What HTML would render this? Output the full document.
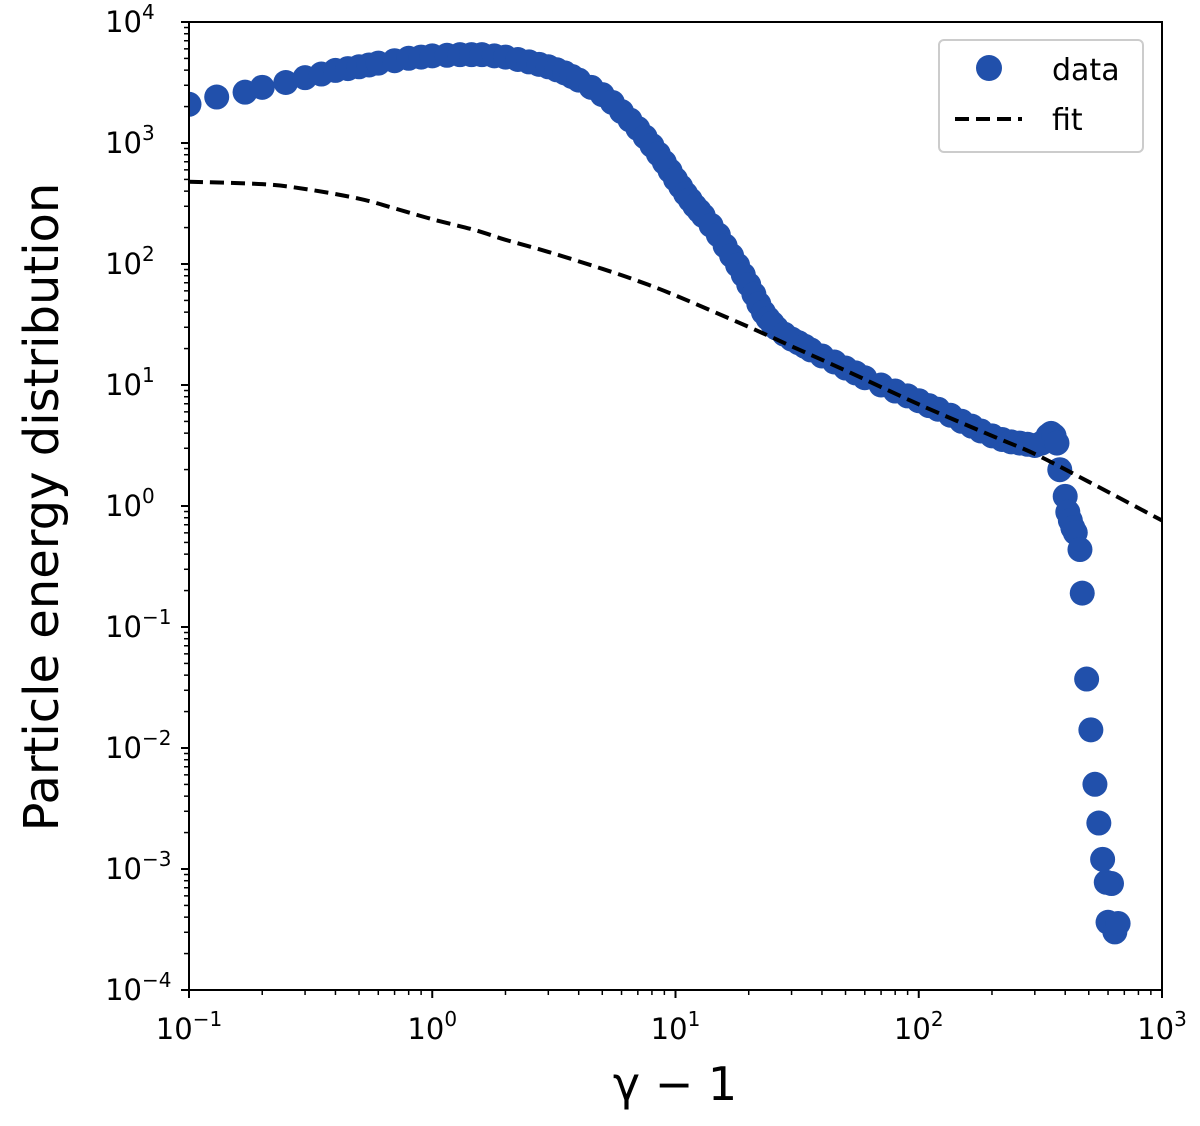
<!DOCTYPE html>
<html><head><meta charset="utf-8"><style>
html,body{margin:0;padding:0;background:#fff;}
svg text{font-family:"DejaVu Sans","Liberation Sans",sans-serif;fill:#000;}
</style></head><body>
<svg id="chart" width="1200" height="1121" xmlns="http://www.w3.org/2000/svg">
<g id="plot"></g>
</svg>
<script>
const dataX=[0.1,0.13,0.17,0.2,0.25,0.3,0.35,0.4,0.45,0.5,0.55,0.6,0.7,0.8,0.9,1.0,1.15,1.3,1.45,1.6,1.8,2.0,2.25,2.5,2.75,3,3.25,3.5,3.75,4,4.5,5,5.5,6,6.5,7,7.5,8,8.5,9,9.5,10,10.5,11,11.5,12,12.5,13,14,15,16,17,18,19,20,21,22,23,24,25,26,28,30,32,34,36,40,45,50,55,60,70,80,90,100,110,120,135,150,165,180,200,220,240,260,280,300,320,340,350,360,370,380,400,410,420,430,440,460,470,490,510,530,550,570,590,600,620,640,660];
const dataY=[3.32,3.38,3.42,3.46,3.5,3.54,3.57,3.6,3.615,3.63,3.645,3.66,3.68,3.70,3.71,3.72,3.725,3.73,3.73,3.73,3.72,3.71,3.69,3.67,3.65,3.63,3.605,3.58,3.55,3.52,3.46,3.40,3.335,3.26,3.19,3.12,3.05,2.98,2.91,2.84,2.77,2.70,2.64,2.58,2.53,2.48,2.44,2.40,2.32,2.24,2.15,2.07,1.99,1.91,1.83,1.75,1.67,1.60,1.55,1.51,1.47,1.42,1.38,1.35,1.32,1.29,1.24,1.19,1.14,1.10,1.06,1.0,0.95,0.91,0.87,0.83,0.80,0.75,0.70,0.66,0.62,0.58,0.55,0.53,0.52,0.51,0.50,0.52,0.58,0.60,0.58,0.52,0.30,0.08,-0.05,-0.12,-0.18,-0.22,-0.36,-0.72,-1.43,-1.85,-2.3,-2.62,-2.92,-3.11,-3.44,-3.12,-3.52,-3.45];
const fitX=[0.1,0.2,0.3,0.5,0.7,1,1.5,2,3,5,7,10,20,30,50,100,200,300,500,1000];
const fitY=[2.68,2.66,2.62,2.54,2.46,2.37,2.28,2.20,2.10,1.96,1.86,1.74,1.48,1.32,1.12,0.84,0.58,0.43,0.20,-0.12];
const xTickExp=[-1,0,1,2,3];
const yTickExp=[-4,-3,-2,-1,0,1,2,3,4];

const L=189,R=1162,T=22,B=990,col="#2150ab";
const NS="http://www.w3.org/2000/svg";
const sx=v=>L+(Math.log10(v)+1)/4*(R-L);
const sy=lg=>T+(4-lg)/8*(B-T);
const g=document.getElementById('plot');
function mk(tag,attrs,parent){const e=document.createElementNS(NS,tag);for(const k in attrs)e.setAttribute(k,attrs[k]);(parent||g).appendChild(e);return e;}

// smooth fit path via Catmull-Rom in pixel space
const fp=fitX.map((x,i)=>[sx(x),sy(fitY[i])]);
let d='M'+fp[0][0].toFixed(1)+','+fp[0][1].toFixed(1);
for(let i=0;i<fp.length-1;i++){const p0=fp[Math.max(0,i-1)],p1=fp[i],p2=fp[i+1],p3=fp[Math.min(fp.length-1,i+2)];
const c1=[p1[0]+(p2[0]-p0[0])/6,p1[1]+(p2[1]-p0[1])/6],c2=[p2[0]-(p3[0]-p1[0])/6,p2[1]-(p3[1]-p1[1])/6];
d+=' C'+c1.join(',')+' '+c2.join(',')+' '+p2.join(',');}
const clip=mk('clipPath',{id:'cp'});mk('rect',{x:L,y:T,width:R-L,height:B-T},clip);
const dg=mk('g',{'clip-path':'url(#cp)'});


dataX.forEach((x,i)=>{const c=mk('circle',{cx:sx(x),cy:sy(dataY[i]),r:12.5,fill:col},dg);

});
const fl=mk('path',{d:d,fill:'none',stroke:'#000','stroke-width':4,'stroke-dasharray':'14,7','clip-path':'url(#cp)'});



const fr=mk('rect',{x:L,y:T,width:R-L,height:B-T,fill:'none',stroke:'#000','stroke-width':2});



xTickExp.forEach(e=>{const x=sx(Math.pow(10,e));
mk('line',{x1:x,x2:x,y1:B,y2:B+8,stroke:'#000','stroke-width':2});
const t=mk('text',{x:x,y:B+49,'font-size':29,'text-anchor':'middle'});


t.textContent='10';const s=mk('tspan',{dy:-13,'font-size':20},t);s.textContent=(e<0?'\u2212':'')+Math.abs(e);
if(e<3)for(let m=2;m<10;m++){const xm=sx(m*Math.pow(10,e));mk('line',{x1:xm,x2:xm,y1:B,y2:B+5,stroke:'#000','stroke-width':1.5});}
});
yTickExp.forEach((e,i)=>{const y=sy(e);
mk('line',{x1:L-8,x2:L,y1:y,y2:y,stroke:'#000','stroke-width':2});
const t=mk('text',{x:L-47,y:y+10,'font-size':29,'text-anchor':'end'});


t.textContent='10';const s=mk('tspan',{dy:-13,'font-size':20,'x':L-47},t);
s.setAttribute('text-anchor','start');
s.textContent=(e<0?'\u2212':'')+Math.abs(e);
if(e<4)for(let m=2;m<10;m++){const ym=sy(e+Math.log10(m));mk('line',{x1:L-5,x2:L,y1:ym,y2:ym,stroke:'#000','stroke-width':1.5});}
});

const xt=mk('text',{x:675,y:1100,'font-size':46,'text-anchor':'middle'});


xt.textContent='\u03B3 \u2212 1';
const yt=mk('text',{x:0,y:0,'font-size':48,'text-anchor':'middle',transform:'translate(58,507) rotate(-90)'});


yt.textContent='Particle energy distribution';

const lg=mk('g',{});


mk('rect',{x:939,y:40,width:204,height:112,rx:5,fill:'#fff','fill-opacity':0.8,stroke:'#ccc','stroke-width':2},lg);
const lc=mk('circle',{cx:989,cy:68,r:13,fill:col},lg);


const t1=mk('text',{x:1052,y:80,'font-size':30},lg);t1.textContent='data';


const ll=mk('line',{x1:955,x2:1022,y1:119,y2:119,stroke:'#000','stroke-width':4,'stroke-dasharray':'14,7'},lg);


const t2=mk('text',{x:1052,y:130,'font-size':30},lg);t2.textContent='fit';


</script>
</body></html>
